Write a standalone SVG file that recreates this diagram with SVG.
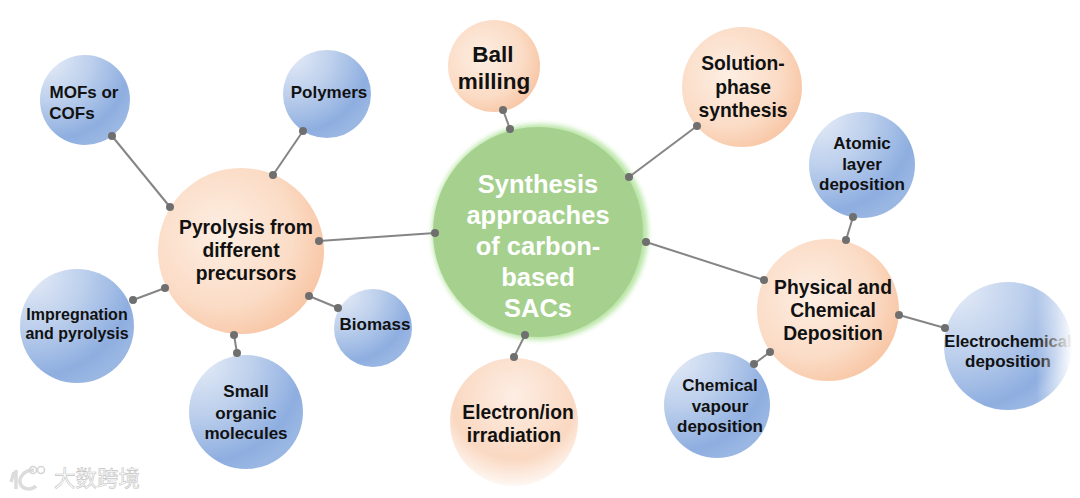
<svg xmlns="http://www.w3.org/2000/svg" width="1080" height="498" viewBox="0 0 1080 498">
<style>
text{font-family:"Liberation Sans",Arial,"Noto Sans CJK SC",sans-serif;font-weight:700;text-anchor:middle;fill:#111}
.c text{fill:#fff;font-size:25.5px}
.l{font-size:19.3px}.m{font-size:17px}.s{font-size:16px}
.o{fill:url(#orange)}.b{fill:url(#blue)}
.ln{stroke:#858585;stroke-width:2}
.d{fill:#6f6f6f}
</style>
<defs>
<radialGradient id="orange" cx="0.38" cy="0.4" r="0.72"><stop offset="0" stop-color="#fdeee3"/><stop offset="0.6" stop-color="#fbdcc6"/><stop offset="1" stop-color="#f7c09c"/></radialGradient>
<radialGradient id="orangeFade" cx="0.5" cy="0.3" r="0.75"><stop offset="0" stop-color="#fdeee4"/><stop offset="0.65" stop-color="#fad8c1"/><stop offset="1" stop-color="#ffffff"/></radialGradient>
<radialGradient id="blue" cx="0.1" cy="0.05" r="1.05"><stop offset="0" stop-color="#e4ebf7"/><stop offset="0.45" stop-color="#bccfec"/><stop offset="0.85" stop-color="#8eaee0"/><stop offset="1" stop-color="#9ab7e3"/></radialGradient>
<radialGradient id="blueFade" cx="0.1" cy="0.05" r="1.05"><stop offset="0" stop-color="#e4ebf7"/><stop offset="0.5" stop-color="#bccfec"/><stop offset="0.9" stop-color="#8eaee0"/><stop offset="1" stop-color="#9ab7e3"/></radialGradient>
<linearGradient id="fadeR" x1="0" y1="0" x2="1" y2="0"><stop offset="0" stop-color="#fff" stop-opacity="0"/><stop offset="1" stop-color="#fff" stop-opacity="1"/></linearGradient>
<filter id="glow" x="-10%" y="-10%" width="120%" height="120%"><feGaussianBlur stdDeviation="2.5"/></filter>
<filter id="soft" x="-5%" y="-5%" width="110%" height="110%"><feGaussianBlur stdDeviation="0.6"/></filter>
</defs>
<rect width="1080" height="498" fill="#fff"/>
<g id="pyrolysis"><circle class="o" cx="241" cy="251" r="83" filter="url(#soft)"/><text class="l" x="246" y="234">Pyrolysis from</text><text class="l" x="241" y="257">different</text><text class="l" x="246" y="280">precursors</text></g>
<g id="mofs"><circle class="b" cx="85" cy="100" r="45" filter="url(#soft)"/><text class="m" x="84" y="98">MOFs or</text><text class="m" x="72" y="119">COFs</text></g>
<g id="polymers"><circle class="b" cx="327" cy="94" r="44" filter="url(#soft)"/><text class="m" x="329" y="98">Polymers</text></g>
<g id="impregnation"><circle class="b" cx="77" cy="326" r="57" filter="url(#soft)"/><text class="s" x="77" y="320">Impregnation</text><text class="s" x="77" y="339">and pyrolysis</text></g>
<g id="biomass"><circle class="b" cx="373" cy="328" r="39" filter="url(#soft)"/><text class="m" x="375" y="330">Biomass</text></g>
<g id="small"><circle class="b" cx="246" cy="412" r="57" filter="url(#soft)"/><text class="m" x="246" y="397">Small</text><text class="m" x="246" y="419">organic</text><text class="m" x="246" y="439">molecules</text></g>
<g id="ball"><circle class="o" cx="494" cy="66" r="46" filter="url(#soft)"/><text x="493" y="62" style="font-size:22.5px">Ball</text><text x="494" y="89" style="font-size:22.5px">milling</text></g>
<g id="solution"><circle class="o" cx="742" cy="87" r="60" filter="url(#soft)"/><text class="l" x="743" y="70">Solution-</text><text class="l" x="743" y="94">phase</text><text class="l" x="743" y="117">synthesis</text></g>
<g id="atomic"><circle class="b" cx="862" cy="165" r="53" filter="url(#soft)"/><text class="m" x="862" y="149">Atomic</text><text class="m" x="862" y="170">layer</text><text class="m" x="862" y="190">deposition</text></g>
<g id="physical"><circle class="o" cx="828" cy="310" r="71" filter="url(#soft)"/><text class="l" x="833" y="294">Physical and</text><text class="l" x="833" y="317">Chemical</text><text class="l" x="833" y="340">Deposition</text></g>
<g id="electrochemical"><circle fill="url(#blueFade)" cx="1008" cy="346" r="64" filter="url(#soft)"/><text class="m" x="1008" y="347" style="font-size:16.6px">Electrochemical</text><text class="m" x="1008" y="367">deposition</text><rect x="1036" y="280" width="37" height="132" fill="url(#fadeR)"/></g>
<g id="chemical"><circle class="b" cx="717" cy="405" r="53" filter="url(#soft)"/><text class="m" x="720" y="391">Chemical</text><text class="m" x="720" y="412">vapour</text><text class="m" x="720" y="432">deposition</text></g>
<g id="electron"><circle fill="url(#orangeFade)" cx="514" cy="422" r="64" filter="url(#soft)"/><text class="l" x="518" y="419">Electron/ion</text><text class="l" x="514" y="442">irradiation</text></g>
<g id="center" class="c"><circle cx="540" cy="232" r="108" fill="#b9e6a6" filter="url(#glow)"/><circle cx="538" cy="232" r="105" fill="#a6d08d"/><text x="538" y="193">Synthesis</text><text x="538" y="224">approaches</text><text x="538" y="255">of carbon-</text><text x="538" y="286">based</text><text x="538" y="317">SACs</text></g>
<g id="connectors">
<g class="ln"><line x1="503" y1="110" x2="510" y2="129"/><line x1="697" y1="126" x2="629" y2="177"/><line x1="435" y1="233" x2="319" y2="241"/><line x1="646" y1="242" x2="764" y2="280"/><line x1="525" y1="335" x2="514" y2="357"/><line x1="853" y1="217" x2="846" y2="240"/><line x1="899" y1="315" x2="945" y2="328"/><line x1="770" y1="352" x2="754" y2="364"/><line x1="112" y1="136" x2="170" y2="207"/><line x1="303" y1="131" x2="273" y2="175"/><line x1="133" y1="300" x2="165" y2="288"/><line x1="309" y1="296" x2="338" y2="308"/><line x1="234" y1="335" x2="237" y2="353"/></g>
<g class="d"><circle cx="503" cy="110" r="4"/><circle cx="510" cy="129" r="4"/><circle cx="697" cy="126" r="4"/><circle cx="629" cy="177" r="4"/><circle cx="435" cy="233" r="4"/><circle cx="319" cy="241" r="4"/><circle cx="646" cy="242" r="4"/><circle cx="764" cy="280" r="4"/><circle cx="525" cy="335" r="4"/><circle cx="514" cy="357" r="4"/><circle cx="853" cy="217" r="4"/><circle cx="846" cy="240" r="4"/><circle cx="899" cy="315" r="4"/><circle cx="945" cy="328" r="4"/><circle cx="770" cy="352" r="4"/><circle cx="754" cy="364" r="4"/><circle cx="112" cy="136" r="4"/><circle cx="170" cy="207" r="4"/><circle cx="303" cy="131" r="4"/><circle cx="273" cy="175" r="4"/><circle cx="133" cy="300" r="4"/><circle cx="165" cy="288" r="4"/><circle cx="309" cy="296" r="4"/><circle cx="338" cy="308" r="4"/><circle cx="234" cy="335" r="4"/><circle cx="237" cy="353" r="4"/></g>
</g>
<g id="watermark"><path d="M14 472 L11 482 M16 470 V489 M34 470 C22 470 18 480 21 485 C24 490 32 490 36 486" fill="none" stroke="#dcdcdc" stroke-width="3.5"/><circle cx="33" cy="470" r="3.5" fill="none" stroke="#d5d5d5" stroke-width="1.6"/><circle cx="41" cy="470" r="3.5" fill="none" stroke="#d5d5d5" stroke-width="1.6"/><text x="97" y="486" style="font-size:21.5px;font-weight:400;fill:#fff;stroke:#c4c4c4;stroke-width:.6;font-family:'Noto Sans CJK SC',sans-serif">大数跨境</text></g>
</svg>
